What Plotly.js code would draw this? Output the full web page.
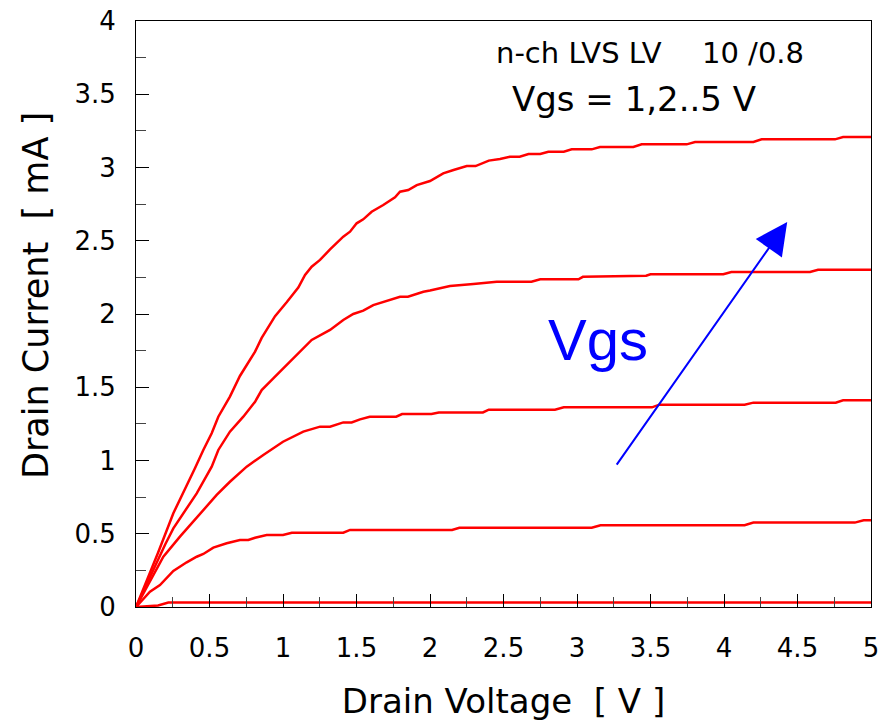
<!DOCTYPE html>
<html>
<head>
<meta charset="utf-8">
<script src="https://cdn.plot.ly/plotly-3.0.1.min.js"></script>
<style>html,body{margin:0;padding:0;background:#fff;}#chart{width:888px;height:725px;}</style>
</head>
<body>
<div id="chart"></div>
<script>
// Vgs = 1 V
const vd1 = [0, 0.15, 0.22, 5.0];
const id1 = [0, 0.01, 0.03, 0.03];
// Vgs = 2 V
const vd2 = [0, 0.095, 0.163, 0.209, 0.254, 0.345, 0.413, 0.458, 0.526, 0.617, 0.707, 0.764, 0.81, 0.889, 1.0, 1.06, 1.41, 1.456, 2.15, 2.2, 3.1, 3.16, 4.14, 4.2, 4.89, 4.95, 5.0];
const id2 = [0, 0.104, 0.15, 0.196, 0.246, 0.305, 0.343, 0.362, 0.405, 0.435, 0.457, 0.457, 0.473, 0.491, 0.491, 0.507, 0.507, 0.526, 0.526, 0.541, 0.541, 0.558, 0.558, 0.576, 0.576, 0.592, 0.592];
// Vgs = 3 V
const vd3 = [0, 0.1, 0.186, 0.299, 0.458, 0.549, 0.639, 0.753, 0.866, 1.0, 1.138, 1.252, 1.32, 1.41, 1.467, 1.524, 1.59, 1.77, 1.81, 2.01, 2.06, 2.36, 2.4, 2.85, 2.91, 3.51, 3.56, 4.14, 4.2, 4.76, 4.81, 5.0];
const id3 = [0, 0.19, 0.343, 0.48, 0.662, 0.765, 0.855, 0.958, 1.038, 1.128, 1.197, 1.231, 1.231, 1.26, 1.26, 1.281, 1.299, 1.299, 1.317, 1.317, 1.328, 1.328, 1.347, 1.347, 1.363, 1.363, 1.381, 1.381, 1.395, 1.395, 1.411, 1.411];
// Vgs = 4 V
const vd4 = [0, 0.1, 0.2, 0.254, 0.413, 0.515, 0.56, 0.639, 0.73, 0.81, 0.855, 0.934, 1.025, 1.093, 1.195, 1.32, 1.41, 1.478, 1.546, 1.614, 1.728, 1.796, 1.85, 1.955, 2.0, 2.07, 2.136, 2.295, 2.454, 2.69, 2.75, 3.01, 3.04, 3.47, 3.5, 3.995, 4.05, 4.585, 4.64, 5.0];
const id4 = [0, 0.22, 0.43, 0.537, 0.776, 0.958, 1.072, 1.197, 1.299, 1.401, 1.481, 1.561, 1.652, 1.72, 1.823, 1.891, 1.959, 2.0, 2.023, 2.061, 2.096, 2.118, 2.118, 2.152, 2.16, 2.175, 2.191, 2.205, 2.22, 2.22, 2.237, 2.237, 2.254, 2.261, 2.271, 2.271, 2.287, 2.287, 2.302, 2.302];
// Vgs = 5 V
const vd5 = [0, 0.05, 0.15, 0.254, 0.333, 0.401, 0.458, 0.515, 0.56, 0.639, 0.707, 0.81, 0.855, 0.946, 1.025, 1.104, 1.15, 1.195, 1.252, 1.32, 1.41, 1.456, 1.501, 1.546, 1.603, 1.682, 1.762, 1.796, 1.852, 1.91, 2.0, 2.09, 2.16, 2.25, 2.31, 2.40, 2.476, 2.544, 2.61, 2.67, 2.75, 2.805, 2.91, 2.964, 3.1, 3.156, 3.383, 3.44, 3.746, 3.803, 4.2, 4.256, 4.755, 4.81, 5.0];
const id5 = [0, 0.12, 0.37, 0.64, 0.8, 0.947, 1.072, 1.186, 1.299, 1.436, 1.577, 1.743, 1.837, 1.985, 2.08, 2.18, 2.266, 2.323, 2.369, 2.441, 2.528, 2.562, 2.619, 2.646, 2.698, 2.744, 2.797, 2.835, 2.846, 2.88, 2.908, 2.96, 2.983, 3.01, 3.01, 3.047, 3.058, 3.074, 3.074, 3.092, 3.092, 3.108, 3.108, 3.124, 3.124, 3.14, 3.14, 3.158, 3.158, 3.174, 3.174, 3.192, 3.192, 3.208, 3.208];

const seriesNames = ['Vgs = 1 V', 'Vgs = 2 V', 'Vgs = 3 V', 'Vgs = 4 V', 'Vgs = 5 V'];
const xTickVals = [0, 0.5, 1, 1.5, 2, 2.5, 3, 3.5, 4, 4.5, 5];
const xTickText = ['0', '0.5', '1', '1.5', '2', '2.5', '3', '3.5', '4', '4.5', '5'];
const yTickVals = [0, 0.5, 1, 1.5, 2, 2.5, 3, 3.5, 4];
const yTickText = ['0', '0.5', '1', '1.5', '2', '2.5', '3', '3.5', '4'];

const xs = [vd1, vd2, vd3, vd4, vd5];
const ys = [id1, id2, id3, id4, id5];
const traces = xs.map((x, i) => ({
  x: x, y: ys[i], name: seriesNames[i], type: 'scatter', mode: 'lines',
  line: {color: '#ff0000', width: 2.5},
  hoverinfo: 'x+y'
}));

const FONT = 'DejaVu Sans, Verdana, sans-serif';
const FONT2 = 'Liberation Sans, Arial, sans-serif';
const px2xp = px => (px - 136) / 735;
const py2yp = py => (607 - py) / 586;

const layout = {
  width: 888, height: 725,
  margin: {l: 136, r: 17, t: 21, b: 118, pad: 0},
  paper_bgcolor: '#fff', plot_bgcolor: '#fff',
  showlegend: false,
  font: {family: FONT, color: '#000'},
  xaxis: {
    range: [0, 5], fixedrange: true,
    tickmode: 'array', tickvals: xTickVals, ticktext: xTickText,
    ticks: 'inside', ticklen: 13, tickwidth: 1, tickcolor: '#000',
    minor: {ticks: 'inside', dtick: 0.25, ticklen: 10, tickwidth: 1, tickcolor: '#444', showgrid: false},
    showgrid: false, zeroline: false,
    showline: true, linecolor: '#000', linewidth: 1, mirror: true,
    tickfont: {family: FONT, size: 26, color: '#000'},
    ticklabelstandoff: 18,
    title: {text: 'Drain Voltage  [ V ]', font: {family: FONT, size: 34, color: '#000'}, standoff: 26}
  },
  yaxis: {
    range: [0, 4], fixedrange: true,
    tickmode: 'array', tickvals: yTickVals, ticktext: yTickText,
    ticks: 'inside', ticklen: 13, tickwidth: 1, tickcolor: '#000',
    minor: {ticks: 'inside', dtick: 0.25, ticklen: 10, tickwidth: 1, tickcolor: '#444', showgrid: false},
    showgrid: false, zeroline: false,
    showline: true, linecolor: '#000', linewidth: 1, mirror: true,
    tickfont: {family: FONT, size: 26, color: '#000'},
    ticklabelstandoff: 14
  },
  annotations: [
    {xref: 'paper', yref: 'paper', x: px2xp(36), y: py2yp(296), text: 'Drain Current  [ mA ]',
     textangle: -90, showarrow: false, xanchor: 'center', yanchor: 'middle',
     font: {family: FONT, size: 35, color: '#000'}},
    {xref: 'paper', yref: 'paper', x: px2xp(494), y: py2yp(53.5), text: 'n-ch LVS LV',
     showarrow: false, xanchor: 'left', yanchor: 'middle', font: {family: FONT, size: 29, color: '#000'}},
    {xref: 'paper', yref: 'paper', x: px2xp(806), y: py2yp(53.5), text: '10 /0.8',
     showarrow: false, xanchor: 'right', yanchor: 'middle', font: {family: FONT, size: 29, color: '#000'}},
    {xref: 'paper', yref: 'paper', x: px2xp(510), y: py2yp(99), text: 'Vgs = 1,2..5 V',
     showarrow: false, xanchor: 'left', yanchor: 'middle', font: {family: FONT, size: 34, color: '#000'}},
    {xref: 'paper', yref: 'paper', x: px2xp(546), y: py2yp(339), text: 'Vgs',
     showarrow: false, xanchor: 'left', yanchor: 'middle', font: {family: FONT2, size: 58, color: '#0000ff'}},
    {xref: 'x', yref: 'y', x: 4.43, y: 2.628, axref: 'x', ayref: 'y', ax: 3.263, ay: 0.962,
     text: '', showarrow: true, arrowhead: 2, arrowsize: 3.2, arrowwidth: 2, arrowcolor: '#0000ff'}
  ]
};

Plotly.newPlot('chart', traces, layout, {displayModeBar: false, staticPlot: true});
</script>
</body>
</html>
